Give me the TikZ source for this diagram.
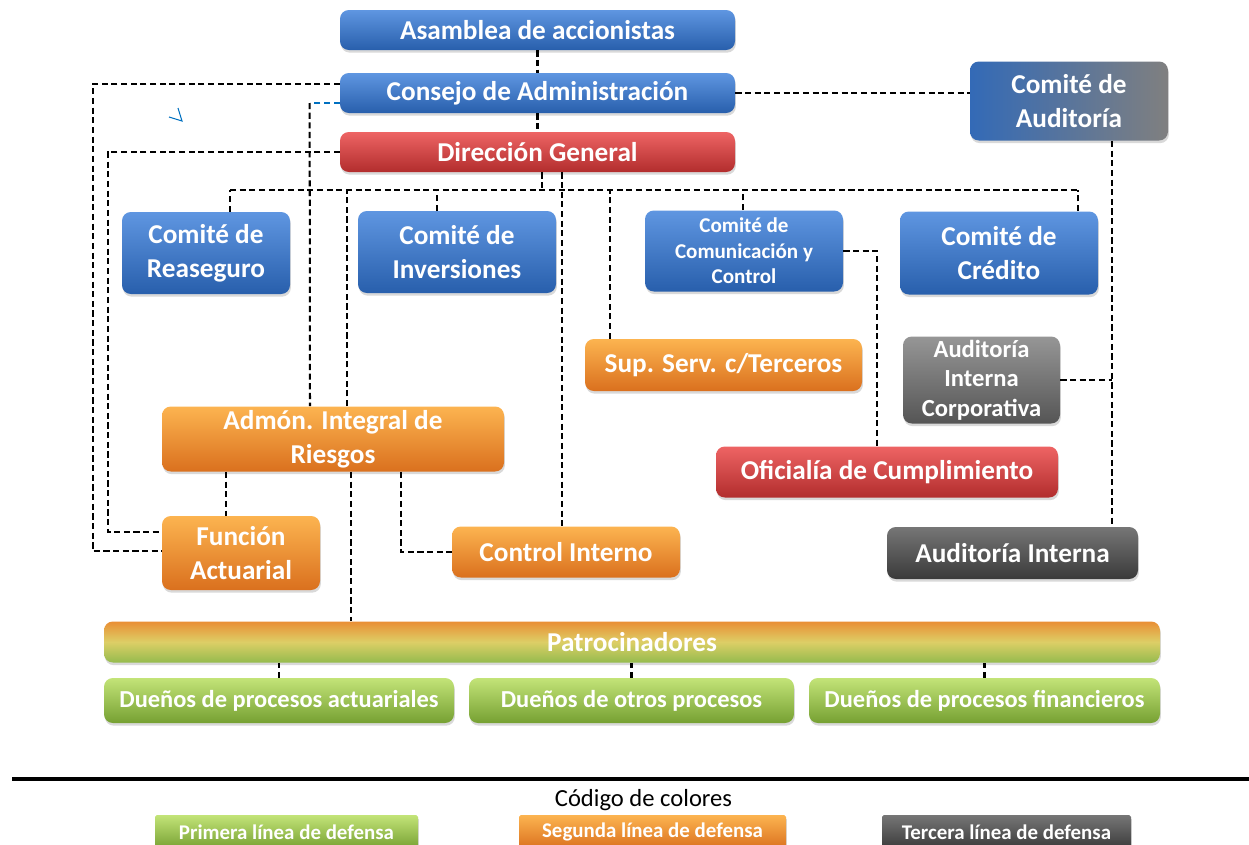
\documentclass[tikz,border=0pt]{standalone}
\usepackage{fontspec}
\setmainfont{Carlito}
\usetikzlibrary{calc,shadows}
\definecolor{azulA}{RGB}{95,150,225}
\definecolor{azulB}{RGB}{40,95,172}
\definecolor{rojoA}{RGB}{238,100,100}
\definecolor{rojoB}{RGB}{178,45,45}
\definecolor{naranjaA}{RGB}{252,180,80}
\definecolor{naranjaB}{RGB}{218,112,30}
\definecolor{grisA}{RGB}{150,150,150}
\definecolor{grisB}{RGB}{85,85,85}
\definecolor{grisC}{RGB}{118,118,118}
\definecolor{grisD}{RGB}{58,58,58}
\definecolor{verdeA}{RGB}{195,228,120}
\definecolor{verdeB}{RGB}{118,160,50}
\definecolor{lineaazul}{RGB}{0,112,192}
\begin{document}
\begin{tikzpicture}[x=0.02cm, y=-0.02cm,
    caja/.style={rounded corners=5pt, align=center, text=white, inner sep=0pt,
      font=\bfseries\fontsize{15.5}{19.5}\selectfont,
      drop shadow={opacity=0.3, shadow xshift=0.5pt, shadow yshift=-1.5pt}},
    sz/.style 2 args={minimum width=#1*0.02cm, minimum height=#2*0.02cm},
    azul/.style={caja, top color=azulA, bottom color=azulB},
    rojo/.style={caja, top color=rojoA, bottom color=rojoB},
    naranja/.style={caja, top color=naranjaA, bottom color=naranjaB},
    gris/.style={caja, top color=grisA, bottom color=grisB},
    grisosc/.style={caja, top color=grisC, bottom color=grisD},
    verde/.style={caja, top color=verdeA, bottom color=verdeB},
    leyenda/.style={rounded corners=1pt, font=\bfseries\fontsize{11.9}{13}\selectfont},
    liga/.style={line width=1.15pt, dash pattern=on 3.5pt off 2pt},
    lazul/.style={liga, lineaazul}]
  \useasboundingbox (0,0) rectangle (1249,845);

  % consejo y direccion
  \node[azul, sz={395}{40}] (asam) at (537.5,30) {Asamblea de accionistas};
  \node[azul, sz={395}{40}] (consejo) at (537.5,93) {Consejo de Administración};
  \node[rojo, sz={395}{40}] (direc) at (537.5,152) {Dirección General};
  \node[caja, left color=azulB!80!azulA, right color=grisA!85!black, sz={198}{79}] (caud) at (1069,101) {Comité de\\Auditoría};

  % comites
  \node[azul, sz={168}{82}] (reas) at (206,253) {Comité de\\Reaseguro};
  \node[azul, sz={198}{82}] (inv) at (457,252) {Comité de\\Inversiones};
  \node[azul, sz={198}{81}, font=\bfseries\fontsize{12}{14.5}\selectfont] (comu) at (744,251) {Comité de\\Comunicación y\\Control};
  \node[azul, sz={198}{83}] (cred) at (999,253) {Comité de\\Crédito};

  % areas
  \node[naranja, sz={277}{52}] (sup) at (723.5,365) {Sup. Serv. c/Terceros};
  \node[gris, sz={157}{87}, font=\bfseries\fontsize{14}{16.8}\selectfont] (aic) at (981.5,380) {Auditoría\\Interna\\Corporativa};
  \node[naranja, sz={342}{65}] (air) at (333,439) {Admón. Integral de\\Riesgos};
  \node[rojo, sz={342}{51}] (ofi) at (887,472) {Oficialía de Cumplimiento};
  \node[naranja, sz={158}{74}] (fact) at (241,553) {Función\\Actuarial};
  \node[naranja, sz={228}{51}] (cint) at (566,552) {Control Interno};
  \node[grisosc, sz={251}{52}] (aint) at (1012.5,553) {Auditoría Interna};

  % primera linea
  \node[caja, top color=naranjaB!55!naranjaA, bottom color=verdeB!60!verdeA, middle color=verdeA!55!naranjaA, sz={1056}{41}] (patro) at (632,642) {Patrocinadores};
  \node[verde, sz={350}{45}, font=\bfseries\fontsize{13.9}{16}\selectfont] (d1) at (279,700.5) {Dueños de procesos actuariales};
  \node[verde, sz={325}{45}, font=\bfseries\fontsize{13.9}{16}\selectfont] (d2) at (631.5,700.5) {Dueños de otros procesos};
  \node[verde, sz={351}{45}, font=\bfseries\fontsize{13.9}{16}\selectfont] (d3) at (984.5,700.5) {Dueños de procesos financieros};

  % conectores
  \draw[liga] (asam) -- (consejo);
  \draw[liga] (consejo) -- (direc);
  \draw[liga] (consejo.east) -- (consejo.east -| caud.west);
  \draw[liga] ($(consejo.west)+(0,-9)$) -| ($(fact.west)+(-69,-2)$) -- ($(fact.west)+(0,-2)$);
  \draw[liga] (direc.west) -| ($(fact.west)+(-54,-21)$) -- ($(fact.west)+(0,-21)$);
  \draw[lazul] ($(consejo.west)+(0,10)$) -- ++(-26,0);
  \draw[liga] ($(consejo.west)+(-30,10)$) -- ($(air.north)+(-23,0)$);

  \coordinate (bus) at (0,190);
  \foreach \n/\dx in {reas/24, inv/-20, air/14, sup/-113.5, comu/-1, cred/79} {
    \path ($(\n.north)+(\dx,0)$) coordinate (baja-\n);
    \draw[liga] (baja-\n) -- (baja-\n |- bus);
  }
  \draw[liga] (baja-reas |- bus) -- (baja-cred |- bus);
  \path ($(direc.south)+(4.5,0)$) coordinate (dg1) ($(direc.south)+(24.5,0)$) coordinate (dg2);
  \draw[liga] (dg1) -- (dg1 |- bus);
  \draw[liga] (dg2) -- (dg2 |- cint.north);

  \draw[liga] (comu.east) -| ($(ofi.north)+(-10,0)$);
  \path ($(caud.south)+(43,0)$) coordinate (ca);
  \draw[liga] (ca) -- (ca |- aint.north);
  \draw[liga] (aic.east) -- (aic.east -| ca);

  \path ($(air.south)+(-107,0)$) coordinate (af) ($(air.south)+(18,0)$) coordinate (ap);
  \draw[liga] (af) -- (af |- fact.north);
  \draw[liga] (ap) -- (ap |- patro.north);
  \draw[liga] ($(air.south)+(68,0)$) |- (cint.west);
  \foreach \d in {d1,d2,d3}
    \draw[liga] (\d.north) -- (\d.north |- patro.south);

  \draw[lineaazul, line width=0.6pt] (169,117) -- (182,121) -- (178,108);

  % codigo de colores
  \draw[line width=2.5pt] (12,779) -- (1249,779);
  \node[font=\fontsize{14}{16}\selectfont] (codigo) at (643.5,800) {Código de colores};
  \node[verde, leyenda, sz={263}{34}] (l1) at (286.5,832) {Primera línea de defensa};
  \node[naranja, leyenda, sz={267}{34}] (l2) at (652.5,832) {Segunda línea de defensa};
  \node[grisosc, leyenda, sz={249}{34}] (l3) at (1006.5,832) {Tercera línea de defensa};
\end{tikzpicture}
\end{document}
